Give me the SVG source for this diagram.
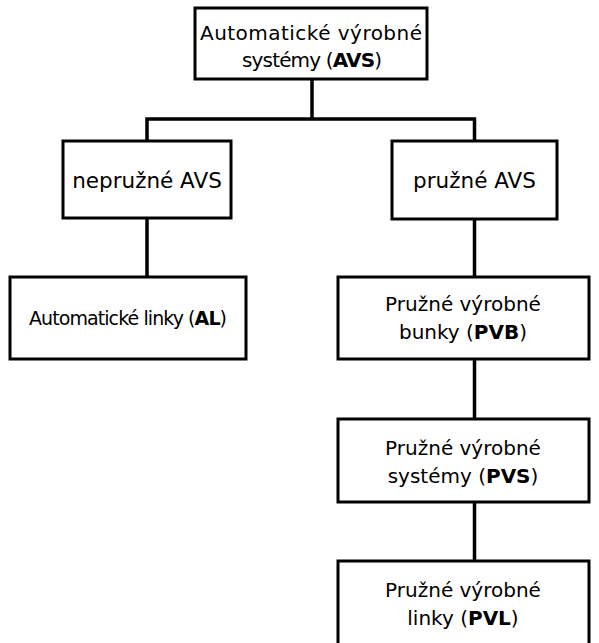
<svg xmlns="http://www.w3.org/2000/svg" width="599" height="643" viewBox="0 0 599 643">
  <style>
    .box { fill: #ffffff; stroke: #000000; stroke-width: 3; }
    .wire { fill: none; stroke: #000000; stroke-width: 3.5; }
    text { font-family: "DejaVu Sans", "Noto Sans", sans-serif; font-size: 20px; fill: #000000; text-anchor: middle; }
    .b { font-weight: bold; }
    .wide { font-size: 21.5px; }
    .small { font-size: 19px; }
  </style>
  <rect width="599" height="643" fill="#ffffff"/>
  <g id="connectors">
    <path class="wire" d="M312 79 V119 M147 141 V119 H474.5 V141"/>
    <path class="wire" d="M147 218 V277"/>
    <path class="wire" d="M474.5 219 V277"/>
    <path class="wire" d="M474.5 359 V419"/>
    <path class="wire" d="M474.5 502 V561"/>
  </g>
  <g id="avs">
    <rect class="box" x="195" y="8" width="232" height="71"/>
    <text x="311" y="40" textLength="222">Automatické výrobné</text>
    <text x="312" y="67" textLength="140">systémy (<tspan class="b">AVS</tspan>)</text>
  </g>
  <g id="nepruzne">
    <rect class="box" x="63" y="141" width="168" height="77"/>
    <text class="wide" x="147" y="188">nepružné AVS</text>
  </g>
  <g id="pruzne">
    <rect class="box" x="392" y="141" width="165" height="78"/>
    <text class="wide" x="474.5" y="188">pružné AVS</text>
  </g>
  <g id="al">
    <rect class="box" x="10" y="277" width="236" height="82"/>
    <text class="small" x="128" y="325" textLength="198">Automatické linky (<tspan class="b">AL</tspan>)</text>
  </g>
  <g id="pvb">
    <rect class="box" x="338" y="277" width="251" height="82"/>
    <text x="463" y="311">Pružné výrobné</text>
    <text x="463" y="339">bunky (<tspan class="b">PVB</tspan>)</text>
  </g>
  <g id="pvs">
    <rect class="box" x="338" y="419" width="251" height="83"/>
    <text x="463" y="455">Pružné výrobné</text>
    <text x="463" y="483">systémy (<tspan class="b">PVS</tspan>)</text>
  </g>
  <g id="pvl">
    <rect class="box" x="338" y="561" width="251" height="90"/>
    <text x="463" y="597">Pružné výrobné</text>
    <text x="463" y="625">linky (<tspan class="b">PVL</tspan>)</text>
  </g>
</svg>
